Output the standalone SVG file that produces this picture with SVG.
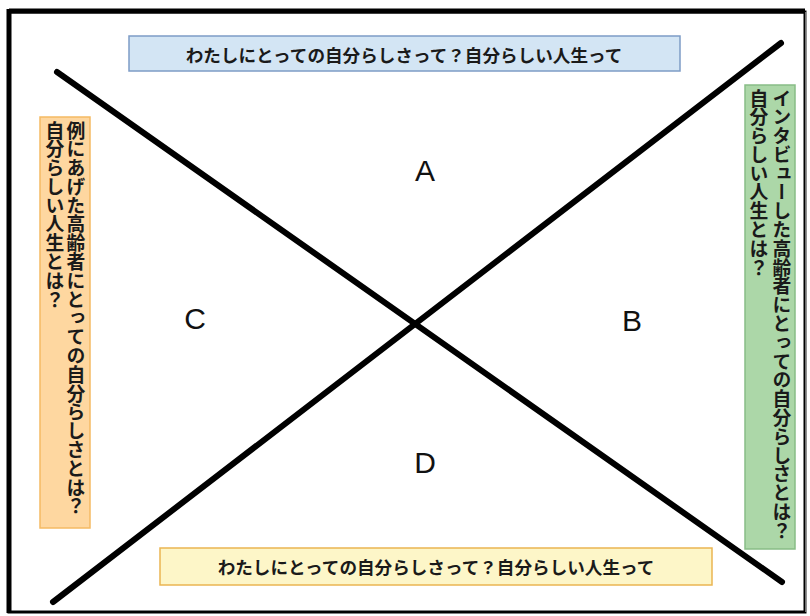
<svg xmlns="http://www.w3.org/2000/svg" width="810" height="616" viewBox="0 0 810 616">
<style>
.jp{font-family:"Noto Sans CJK JP","Noto Sans",sans-serif;font-weight:bold;fill:#1a1a1a}
.h{font-size:17.6px;text-anchor:middle;dominant-baseline:central}
.v{font-size:18.8px;writing-mode:vertical-rl;text-anchor:start}
.lbl{font-family:"Liberation Sans",Arial,sans-serif;font-size:30px;fill:#111;text-anchor:middle;dominant-baseline:central}
.ax{stroke:#000;stroke-width:6;stroke-linecap:round}
</style>
<rect x="0" y="0" width="810" height="616" fill="#fff"/>
<g id="frame">
<rect x="9" y="12" width="796" height="600" fill="#fff" stroke="#000" stroke-width="3"/>
<line x1="9" y1="11" x2="805" y2="11" stroke="#000" stroke-width="5"/>
<line x1="9" y1="9" x2="9" y2="613" stroke="#000" stroke-width="5"/>
<line x1="806" y1="12" x2="806" y2="612" stroke="#999" stroke-width="1.5"/>
</g>
<g id="connectors">
<line class="ax" x1="57" y1="72" x2="782" y2="582"/>
<line class="ax" x1="781" y1="43" x2="53" y2="602"/>
</g>
<g id="top">
<rect x="129" y="36" width="551" height="35" fill="#d3e5f4" stroke="#7e9cc6" stroke-width="1.5"/>
<text class="jp h" x="404" y="54">わたしにとっての自分らしさって？自分らしい人生って</text>
</g>
<g id="bottom">
<rect x="160" y="548" width="552" height="37" fill="#fdf6c8" stroke="#eab552" stroke-width="1.5"/>
<text class="jp h" x="436" y="566">わたしにとっての自分らしさって？自分らしい人生って</text>
</g>
<g id="left">
<rect x="40" y="117" width="50" height="411" fill="#fed7a0" stroke="#f5ba63" stroke-width="1.5"/>
<text class="jp v" x="76" y="121">例にあげた高齢者にとっての自分らしさとは？</text>
<text class="jp v" x="55" y="121">自分らしい人生とは？</text>
</g>
<g id="right">
<rect x="745" y="85" width="50" height="464" fill="#acd7a8" stroke="#88bd86" stroke-width="1.5"/>
<text class="jp v" x="782" y="89">インタビューした高齢者にとっての自分らしさとは？</text>
<text class="jp v" x="759" y="89">自分らしい人生とは？</text>
</g>
<g id="A"><text class="lbl" x="425" y="170">A</text></g>
<g id="B"><text class="lbl" x="632" y="320">B</text></g>
<g id="C"><text class="lbl" x="195" y="318">C</text></g>
<g id="D"><text class="lbl" x="425" y="462">D</text></g>
</svg>
